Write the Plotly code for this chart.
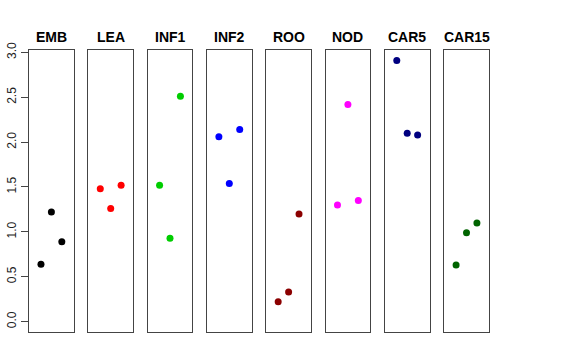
import plotly.graph_objects as go

categories = ["EMB", "LEA", "INF1", "INF2", "ROO", "NOD", "CAR5", "CAR15"]
values = [
    [0.64, 1.22, 0.89],
    [1.48, 1.26, 1.52],
    [1.52, 0.93, 2.51],
    [2.06, 1.54, 2.14],
    [0.22, 0.33, 1.20],
    [1.30, 2.42, 1.35],
    [2.91, 2.10, 2.08],
    [0.63, 0.99, 1.10],
]
colors = ["#000000", "#FF0000", "#00CD00", "#0000FF", "#8B0000", "#FF00FF", "#000080", "#006400"]
jitter_x = [-1, 0, 1]
y_ticks = [0.0, 0.5, 1.0, 1.5, 2.0, 2.5, 3.0]

W, H = 576, 360
left0, pw, step = 29.0, 44.8, 59.3
ytop, ybot = 43.0, 331.0
yrange = [-0.112, 3.026]

fig = go.Figure()
layout = dict(
    width=W, height=H, margin=dict(l=0, r=0, t=0, b=0),
    paper_bgcolor="white", plot_bgcolor="white", showlegend=False,
    font=dict(family="Liberation Sans, Arial, sans-serif", color="black"),
)
annotations = []
for i, (cat, vals, col) in enumerate(zip(categories, values, colors)):
    n = "" if i == 0 else str(i + 1)
    x0 = left0 + i * step
    x1 = x0 + pw
    fig.add_trace(go.Scatter(
        x=jitter_x, y=vals, mode="markers",
        marker=dict(color=col, size=7, line=dict(width=0)),
        xaxis="x" + n, yaxis="y" + n, hoverinfo="y",
    ))
    layout["xaxis" + n] = dict(
        domain=[x0 / W, x1 / W], range=[-2.15, 2.15], anchor="y" + n,
        showticklabels=False, ticks="", showgrid=False, zeroline=False,
        showline=True, mirror=True, linecolor="#444444", linewidth=1,
    )
    ya = dict(
        domain=[1 - ybot / H, 1 - ytop / H], range=yrange, anchor="x" + n,
        showgrid=False, zeroline=False,
        showline=True, mirror=True, linecolor="#444444", linewidth=1,
    )
    if i == 0:
        ya.update(tickmode="array", tickvals=y_ticks,
                  ticktext=[f"{t:.1f}" for t in y_ticks],
                  ticks="outside", ticklen=7, tickcolor="#444444",
                  tickangle=-90, tickfont=dict(size=12, color="#222222"))
    else:
        ya.update(showticklabels=False, ticks="")
    layout["yaxis" + n] = ya
    annotations.append(dict(
        x=(x0 + x1) / 2 / W, y=1 - 29.5 / H, xref="paper", yref="paper",
        text="<b>" + cat + "</b>", showarrow=False,
        font=dict(size=14, color="black"), xanchor="center", yanchor="middle",
    ))
layout["annotations"] = annotations
fig.update_layout(**layout)
fig.write_html(
    "out.html",
    config={"displayModeBar": False},
    post_script="document.body.style.margin='0';document.body.style.overflow='hidden';",
)
